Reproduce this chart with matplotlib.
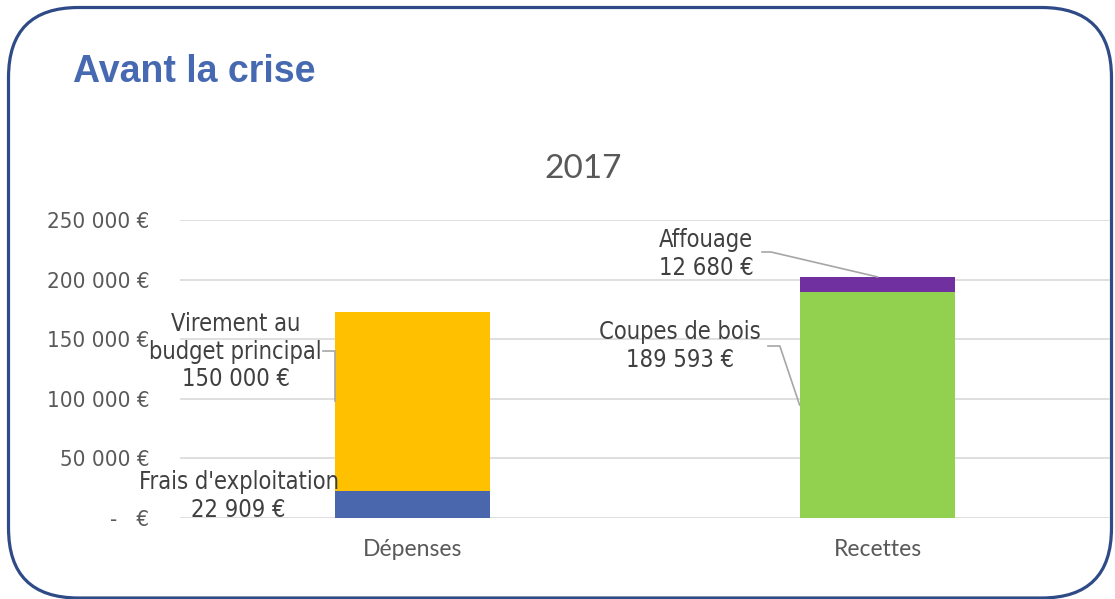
import os
import matplotlib
matplotlib.use("Agg")
import matplotlib.pyplot as plt
from matplotlib.patches import FancyBboxPatch
from matplotlib import font_manager
from matplotlib.font_manager import FontProperties

# ---------------- data ----------------
categories = ["Dépenses", "Recettes"]
depenses_labels = ["Frais d'exploitation", "Virement au\nbudget principal"]
depenses_values = [22909, 150000]
recettes_labels = ["Coupes de bois", "Affouage"]
recettes_values = [189593, 12680]
yticks = [0, 50000, 100000, 150000, 200000, 250000]
chart_title = "2017"
panel_title = "Avant la crise"

colors_dep = ["#4A67AE", "#FFC000"]
colors_rec = ["#92D050", "#7030A0"]


def euro(v):
    if v == 0:
        return "-   €"
    return f"{v:,}".replace(",", " ") + " €"


# ---------------- fonts ----------------
cond_path = None
for f in font_manager.fontManager.ttflist:
    if os.path.basename(f.fname) == "DejaVuSansCondensed.ttf":
        cond_path = f.fname
        break


def tfont(size):
    if cond_path:
        return FontProperties(fname=cond_path, size=size)
    return FontProperties(family="Open Sans", size=size - 0.5)


W, H = 1115, 599
fig = plt.figure(figsize=(W / 100, H / 100), dpi=100)

# background panel with rounded border
bg = fig.add_axes([0, 0, 1, 1])
bg.set_xlim(0, W)
bg.set_ylim(H, 0)
bg.axis("off")
bg.add_patch(FancyBboxPatch((8.5, 7.5), 1103, 590.5,
                            boxstyle="round,pad=0,rounding_size=70",
                            fc="white", ec="#2F4B87", lw=2.3))

ax = fig.add_axes([180 / W, 1 - 518 / H, 930 / W, 298 / H])
ax.set_facecolor("none")
ax.set_xlim(-0.5, 1.5)
ax.set_ylim(0, 250000)

bw = 0.335
# Dépenses
ax.bar(0, depenses_values[0], bw, color=colors_dep[0], zorder=3)
ax.bar(0, depenses_values[1], bw, bottom=depenses_values[0], color=colors_dep[1], zorder=3)
# Recettes
ax.bar(1, recettes_values[0], bw, color=colors_rec[0], zorder=3)
ax.bar(1, recettes_values[1], bw, bottom=recettes_values[0], color=colors_rec[1], zorder=3)

ax.set_yticks(yticks)
ax.set_yticklabels([euro(v) for v in yticks])
for lab in ax.get_yticklabels():
    lab.set_fontproperties(tfont(16))
    lab.set_color("#595959")
ax.set_xticks([0, 1])
ax.set_xticklabels(categories, family="Lato", fontsize=16.5, color="#595959")
ax.tick_params(axis="y", length=0, pad=22)
ax.tick_params(axis="x", length=0, pad=15)
for s in ax.spines.values():
    s.set_visible(False)
ax.grid(axis="y", color="#D9D9D9", lw=1.2, zorder=0)

# ---------------- data labels ----------------
lab_col = "#404040"
lead_col = "#A6A6A6"
LINE_PX = 27.5


def data_label(x, y_first_baseline, name, value):
    lines = name.split("\n") + [euro(value)]
    for i, line in enumerate(lines):
        ax.annotate(line, xy=(x, y_first_baseline), xytext=(0, -i * LINE_PX),
                    textcoords="offset pixels", ha="center", va="baseline",
                    fontproperties=tfont(17), color=lab_col, zorder=5)


# Frais d'exploitation
data_label(-0.374, 24328, depenses_labels[0], depenses_values[0])
# Virement au budget principal
data_label(-0.38, 156874, depenses_labels[1], depenses_values[1])
vmid = depenses_values[0] + depenses_values[1] / 2
ax.plot([-0.192, -bw / 2, -bw / 2], [140100, 140100, vmid], color=lead_col, lw=1.2, zorder=4)
# Coupes de bois
data_label(0.575, 150163, recettes_labels[0], recettes_values[0])
cmid = recettes_values[0] / 2
ax.plot([0.7645, 0.790, 1 - bw / 2], [144290, 144290, cmid], color=lead_col, lw=1.2, zorder=4)
# Affouage
data_label(0.631, 227342, recettes_labels[1], recettes_values[1])
atop = recettes_values[0] + recettes_values[1]
ax.plot([0.7516, 0.771, 1.0], [223150, 223150, atop], color=lead_col, lw=1.2, zorder=4)

# ---------------- titles ----------------
fig.text(583 / W, 1 - 178 / H, chart_title, ha="center", va="baseline",
         family="Lato", fontsize=24, color="#595959")
fig.text(73 / W, 1 - 82 / H, panel_title, ha="left", va="baseline",
         family="Liberation Sans", weight="bold", fontsize=27, color="#4669B2")

fig.savefig("out.png", dpi=100)
